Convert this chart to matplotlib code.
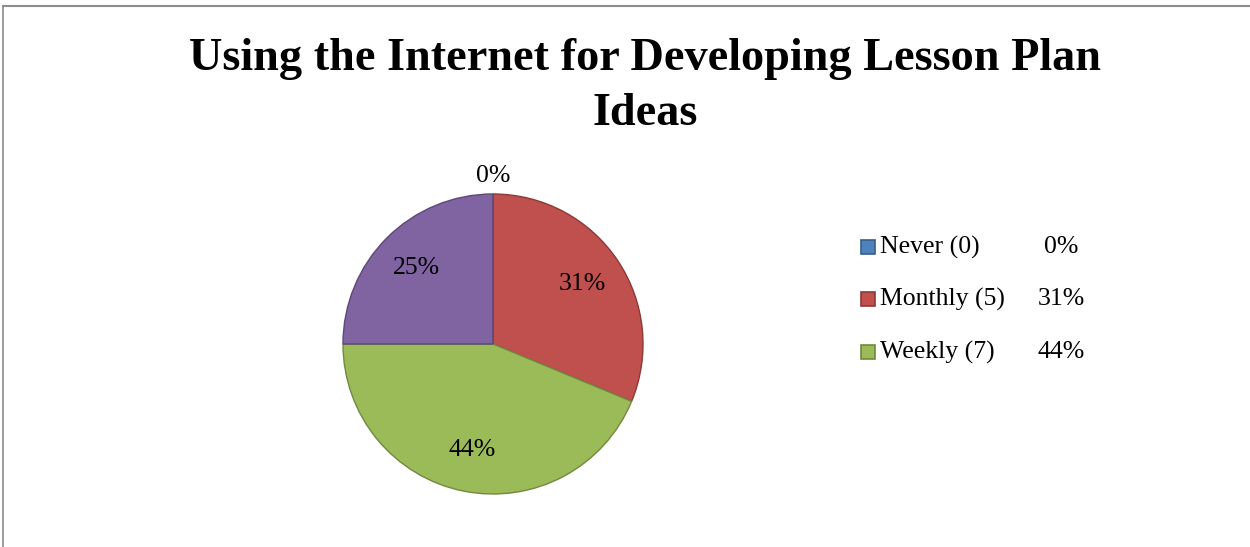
import numpy as np
import matplotlib
matplotlib.use("Agg")
import matplotlib.pyplot as plt
from matplotlib.patches import Rectangle
from matplotlib.lines import Line2D

# data
categories = ["Never (0)", "Monthly (5)", "Weekly (7)", "Daily (4)"]
counts = [0, 5, 7, 4]
colors = ["#4F81BD", "#C0504D", "#9BBB59", "#8064A2"]
edges = ["#385D8A", "#8C3836", "#71893F", "#5C4776"]
legend_shown = 3  # only three entries are visible in the legend
title_lines = ["Using the Internet for Developing Lesson Plan", "Ideas"]

plt.rcParams["font.family"] = ["Liberation Serif", "DejaVu Serif"]

W, H = 1250, 547
fig = plt.figure(figsize=(W / 100, H / 100), dpi=100)

# frame lines (top and left only are visible)
fig.add_artist(Line2D([3 / W, 1], [1 - 5.5 / H, 1 - 5.5 / H], color="#8c8c8c", lw=1.5))
fig.add_artist(Line2D([3 / W, 3 / W], [0, 1 - 5.5 / H], color="#8c8c8c", lw=1.2))

# title, two lines, placed by baseline
for line, base in zip(title_lines, [70, 125]):
    fig.text(645 / W, 1 - base / H, line, ha="center", va="baseline",
             fontsize=33.3, fontweight="bold")

cx, cy, r = 493, 344, 150
ax = fig.add_axes([(cx - r) / W, (H - cy - r) / H, 2 * r / W, 2 * r / H])
total = sum(counts)
pcts = [c / total * 100 for c in counts]

wedges, _, autotexts = ax.pie(counts, colors=colors, startangle=90, counterclock=False,
                              autopct="%1.0f%%", pctdistance=0.72,
                              textprops={"fontsize": 18.5},
                              wedgeprops={"linewidth": 1.0})
for w, ec in zip(wedges, edges):
    w.set_edgecolor(ec)
for w, t, c in zip(wedges, autotexts, counts):
    if c == 0:
        ang = np.deg2rad((w.theta1 + w.theta2) / 2)
        t.set_position((1.12 * np.cos(ang), 1.12 * np.sin(ang)))
ax.set_xlim(-1, 1)
ax.set_ylim(-1, 1)
ax.set_aspect("auto")
ax.axis("off")

# legend drawn by hand: square, label, percentage
row_y = [247, 299, 352]
for i in range(legend_shown):
    y = row_y[i]
    fig.add_artist(Rectangle((861 / W, 1 - (y + 7) / H), 14 / W, 14 / H,
                             facecolor=colors[i], edgecolor=edges[i], lw=1.2))
    fig.text(880 / W, 1 - y / H, categories[i], ha="left", va="center", fontsize=18.5)
    fig.text(1061 / W, 1 - y / H, "%d%%" % round(pcts[i]), ha="center", va="center", fontsize=18.5)

fig.savefig("out.png", dpi=100, facecolor="white")
